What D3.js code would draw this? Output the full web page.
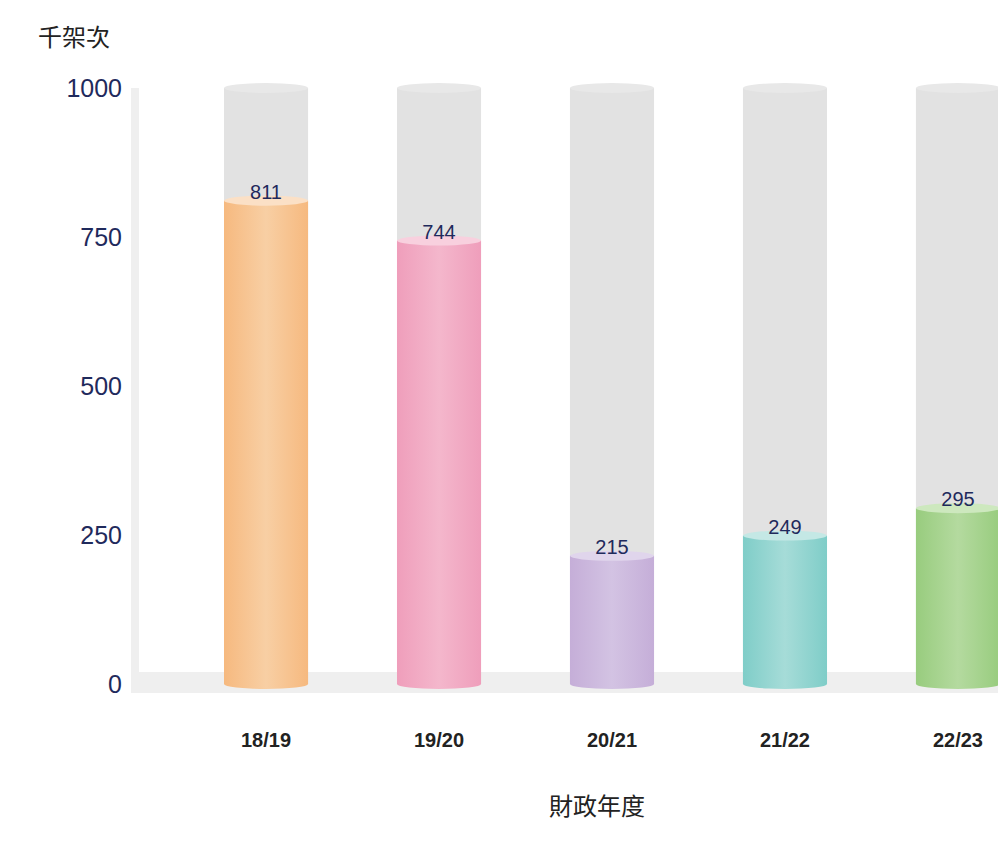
<!DOCTYPE html>
<html><head><meta charset="utf-8">
<script src="https://cdn.jsdelivr.net/npm/d3@7"></script>
<style>body{margin:0;background:#fff}svg{display:block}</style>
</head><body><svg id="c" width="998" height="850"></svg>
<script>
const categories=["18/19","19/20","20/21","21/22","22/23"];
const values=[811,744,215,249,295];
const colors=[["#f6b97f","#f8cfa4","#fbe0c6"],["#ef9ebb","#f4b7cc","#f8d0de"],["#c5aed8","#d3c3e3","#e0d5ec"],["#7fcdc8","#a6dcd8","#c4e8e5"],["#98cc7e","#b4da9f","#cde8be"]];
const yTicks=[0,250,500,750,1000];
const svg=d3.select("#c");
const FONT="'Liberation Sans', Arial, sans-serif";
const y=d3.scaleLinear().domain([0,1000]).range([684,88]);
const x=d3.scaleBand().domain(categories).range([224,1000]).paddingInner(0.514).paddingOuter(0);
const defs=svg.append("defs");
svg.append("rect").attr("x",131).attr("y",88).attr("width",8).attr("height",605).attr("fill","#efefef");
svg.append("rect").attr("x",131).attr("y",672).attr("width",867).attr("height",21).attr("fill","#efefef");
const ry=5;
categories.forEach((c,i)=>{
  const g=defs.append("linearGradient").attr("id","g"+i);
  [[0,0],[0.5,1],[1,0]].forEach(([o,k])=>g.append("stop").attr("offset",o).attr("stop-color",colors[i][k]));
  const x0=x(c), w=x.bandwidth(), cx=x0+w/2;
  svg.append("rect").attr("x",x0).attr("y",y(1000)).attr("width",w).attr("height",y(0)-y(1000)).attr("fill","#e2e2e2");
  svg.append("ellipse").attr("cx",cx).attr("cy",y(1000)).attr("rx",w/2).attr("ry",ry).attr("fill","#e8e8e8");
  svg.append("rect").attr("x",x0).attr("y",y(values[i])).attr("width",w).attr("height",y(0)-y(values[i])).attr("fill","url(#g"+i+")");
  svg.append("ellipse").attr("cx",cx).attr("cy",y(0)).attr("rx",w/2).attr("ry",ry).attr("fill","url(#g"+i+")");
  svg.append("ellipse").attr("cx",cx).attr("cy",y(values[i])).attr("rx",w/2).attr("ry",ry).attr("fill",colors[i][2]);
  svg.append("text").attr("x",cx).attr("y",y(values[i])-2).attr("text-anchor","middle")
    .attr("font-family",FONT).attr("font-size",20).attr("fill","#1f2a5c").text(values[i]);
  svg.append("text").attr("x",cx).attr("y",747).attr("text-anchor","middle")
    .attr("font-family",FONT).attr("font-weight","bold").attr("font-size",20).attr("fill","#222").text(c);
});
yTicks.forEach(t=>svg.append("text").attr("x",122).attr("y",y(t)+9).attr("text-anchor","end")
  .attr("font-family",FONT).attr("font-size",25).attr("fill","#1f2a5c").text(t));
svg.append("text").attr("x",38).attr("y",46).attr("font-family","Noto Sans CJK TC").attr("font-size",24).attr("fill","#222").text("千架次");
svg.append("text").attr("x",597).attr("y",815).attr("text-anchor","middle").attr("font-family","Noto Sans CJK TC").attr("font-size",24).attr("fill","#222").text("財政年度");
</script></body></html>
